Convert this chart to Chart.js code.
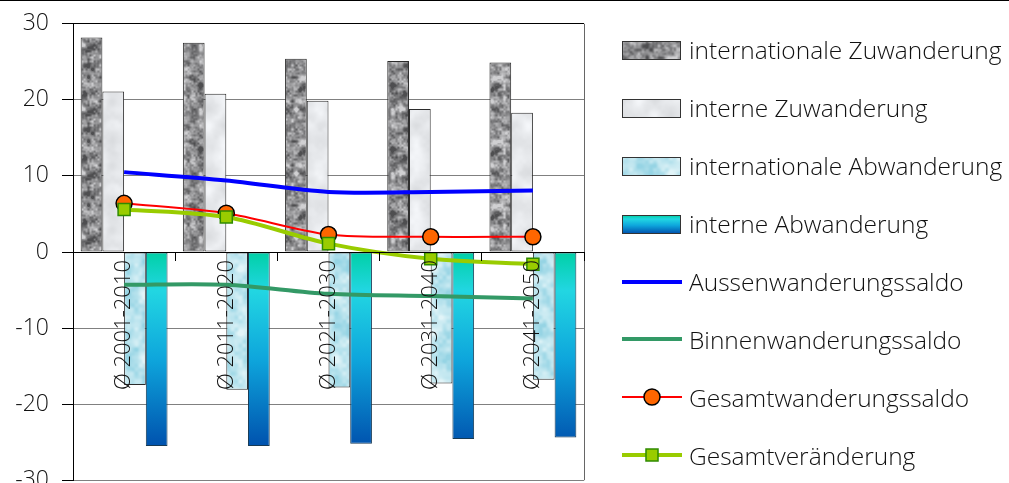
<!DOCTYPE html>
<html>
<head>
<meta charset="utf-8">
<script src="https://cdn.jsdelivr.net/npm/chart.js@4/dist/chart.umd.min.js"></script>
<style>
  html, body { margin: 0; padding: 0; background: #fff; overflow: hidden; width: 1009px; height: 483px; }
  #wrap { position: relative; width: 1009px; height: 483px; overflow: hidden; }
  #chart { position: absolute; left: 0; top: -3px; }
  #topRule { position: absolute; left: 0; top: 0; width: 1009px; height: 1px; background: #000; }
  #legend { position: absolute; left: 622px; top: 21px; font-family: 'Open Sans', sans-serif; font-weight: 300; font-size: 24.5px; color: #111; }
  .row { display: flex; align-items: center; height: 57.9px; white-space: nowrap; }
  .row canvas { margin-right: 7px; flex: none; }
</style>
</head>
<body>
<div id="wrap">
  <canvas id="chart" width="1009" height="510" style="width:1009px;height:510px"></canvas>
  <div id="topRule"></div>
  <div id="legend"></div>
</div>
<script>
// Decade averages (per 1000 inhabitants)
const categories = ['Ø 2001-2010', 'Ø 2011-2020', 'Ø 2021-2030', 'Ø 2031-2040', 'Ø 2041-2050'];
const intlZuwanderung    = [28.2, 27.5, 25.4, 25.1, 24.9];
const interneZuwanderung = [21.1, 20.8, 19.9, 18.8, 18.3];
const intlAbwanderung    = [-17.5, -18.1, -17.8, -17.3, -16.8];
const interneAbwanderung = [-25.5, -25.5, -25.2, -24.6, -24.4];
const aussenSaldo        = [10.5, 9.4, 7.9, 7.9, 8.1];
const binnenSaldo        = [-4.3, -4.3, -5.5, -5.8, -6.1];
const gesamtSaldo        = [6.4, 5.1, 2.3, 2.0, 2.0];
const gesamtVeraenderung = [5.6, 4.6, 1.1, -0.9, -1.6];
const yTicks = [-30, -20, -10, 0, 10, 20, 30];

const FONT = "'Open Sans', sans-serif";

// ---- tileable value-noise textures for the bar fills ----
function hash2(x, y, seed) {
  let h = Math.imul(x, 374761393) ^ Math.imul(y, 668265263) ^ Math.imul(seed, 1442695041);
  h = Math.imul(h ^ (h >>> 13), 1274126177);
  h ^= h >>> 16;
  return (h >>> 0) / 4294967296;
}
function tileNoise(x, y, cell, size, seed) {
  const n = size / cell;
  const gx = x / cell, gy = y / cell;
  const x0 = Math.floor(gx), y0 = Math.floor(gy);
  let fx = gx - x0, fy = gy - y0;
  fx = fx * fx * (3 - 2 * fx); fy = fy * fy * (3 - 2 * fy);
  const a = hash2(x0 % n, y0 % n, seed), b = hash2((x0 + 1) % n, y0 % n, seed);
  const c = hash2(x0 % n, (y0 + 1) % n, seed), d = hash2((x0 + 1) % n, (y0 + 1) % n, seed);
  const top = a + (b - a) * fx, bot = c + (d - c) * fx;
  return top + (bot - top) * fy;
}
function makeTexture(size, paint) {
  const c = document.createElement('canvas');
  c.width = c.height = size;
  const g = c.getContext('2d');
  const img = g.createImageData(size, size);
  for (let y = 0; y < size; y++) {
    for (let x = 0; x < size; x++) {
      const [r, gg, b] = paint(x, y);
      const i = (y * size + x) * 4;
      img.data[i] = r; img.data[i + 1] = gg; img.data[i + 2] = b; img.data[i + 3] = 255;
    }
  }
  g.putImageData(img, 0, 0);
  return c;
}
const clamp = (v, a, b) => Math.max(a, Math.min(b, v));
const S = 64;

const graniteTex = makeTexture(S, (x, y) => {
  const n = 0.4 * tileNoise(x, y, 8, S, 11) + 0.35 * tileNoise(x, y, 4, S, 12) + 0.25 * tileNoise(x, y, 2, S, 13);
  const t = clamp((n - 0.25) / 0.5, 0, 1);
  const v = 78 + t * 130;
  return [v, v, v + 2];
});
const marbleTex = makeTexture(S, (x, y) => {
  const n = 0.55 * tileNoise(x, y, 16, S, 21) + 0.3 * tileNoise(x, y, 8, S, 22) + 0.15 * tileNoise(x, y, 4, S, 23);
  const v = 214 + n * 36;
  return [v - 2, v, v + 3];
});
const waterTex = makeTexture(S, (x, y) => {
  const n = 0.45 * tileNoise(x, y, 8, S, 31) + 0.3 * tileNoise(x, y, 4, S, 32) + 0.25 * tileNoise(x, y, 16, S, 33);
  const t = clamp((n - 0.2) / 0.6, 0, 1);
  return [150 + t * 75, 212 + t * 32, 228 + t * 20];
});
const helperCtx = document.createElement('canvas').getContext('2d');
const granitePattern = helperCtx.createPattern(graniteTex, 'repeat');
const marblePattern = helperCtx.createPattern(marbleTex, 'repeat');
const waterPattern = helperCtx.createPattern(waterTex, 'repeat');

// vertical teal-to-blue ramp for the "interne Abwanderung" bars
function blueRamp(g, y0, y1) {
  const grad = g.createLinearGradient(0, y0, 0, y1);
  grad.addColorStop(0, '#00d0a6');
  grad.addColorStop(0.2, '#22d6e2');
  grad.addColorStop(0.55, '#0ea6dc');
  grad.addColorStop(1, '#0052ae');
  return grad;
}

const barBase = { type: 'bar', borderWidth: 1, borderSkipped: false, order: 10 };

const datasets = [
  Object.assign({}, barBase, {
    label: 'internationale Zuwanderung', data: intlZuwanderung,
    backgroundColor: granitePattern, borderColor: '#2b2b2b',
    swatch: (g, w, h) => granitePattern
  }),
  Object.assign({}, barBase, {
    label: 'interne Zuwanderung', data: interneZuwanderung,
    backgroundColor: marblePattern, borderColor: '#2b2b2b',
    swatch: (g, w, h) => marblePattern
  }),
  Object.assign({}, barBase, {
    label: 'internationale Abwanderung', data: intlAbwanderung,
    backgroundColor: waterPattern, borderColor: '#2b2b2b',
    swatch: (g, w, h) => waterPattern
  }),
  Object.assign({}, barBase, {
    label: 'interne Abwanderung', data: interneAbwanderung,
    backgroundColor: (ctx) => {
      const chart = ctx.chart;
      if (!chart.chartArea) return '#10b0d8';
      const ys = chart.scales.y;
      return blueRamp(chart.ctx, ys.getPixelForValue(0), ys.getPixelForValue(Math.min(...interneAbwanderung)));
    },
    borderColor: '#173a55',
    swatch: (g, w, h) => blueRamp(g, 0, h)
  }),
  {
    type: 'line', label: 'Aussenwanderungssaldo', data: aussenSaldo,
    borderColor: '#0000ff', borderWidth: 4, pointRadius: 0, tension: 0.3, fill: false, order: 4
  },
  {
    type: 'line', label: 'Binnenwanderungssaldo', data: binnenSaldo,
    borderColor: '#339966', borderWidth: 4, pointRadius: 0, tension: 0.3, fill: false, order: 3
  },
  {
    type: 'line', label: 'Gesamtwanderungssaldo', data: gesamtSaldo,
    borderColor: '#ff0000', borderWidth: 2, tension: 0.3, fill: false, order: 2,
    pointStyle: 'circle', pointRadius: 8, pointBackgroundColor: '#ff6600',
    pointBorderColor: '#000000', pointBorderWidth: 1.5
  },
  {
    type: 'line', label: 'Gesamtveränderung', data: gesamtVeraenderung,
    borderColor: '#99cc00', borderWidth: 4, tension: 0.3, fill: false, order: 1,
    pointStyle: 'rect', pointRadius: 8.5, pointBackgroundColor: '#99cc00',
    pointBorderColor: '#2f8a00', pointBorderWidth: 1.5
  }
];

// right edge of the plot frame
const plotFrame = {
  id: 'plotFrame',
  beforeDatasetsDraw(chart) {
    const { ctx, chartArea: a } = chart;
    ctx.save();
    ctx.strokeStyle = '#666';
    ctx.lineWidth = 1;
    ctx.beginPath();
    ctx.moveTo(Math.round(a.right) + 0.5, a.top);
    ctx.lineTo(Math.round(a.right) + 0.5, a.bottom);
    ctx.stroke();
    ctx.restore();
  }
};

const chart = new Chart(document.getElementById('chart'), {
  data: { labels: categories, datasets },
  options: {
    responsive: false,
    devicePixelRatio: 1,
    animation: false,
    events: [],
    layout: { padding: { top: 0, right: 425, bottom: 0, left: 0 } },
    datasets: { bar: { categoryPercentage: 0.85, barPercentage: 1.0 } },
    plugins: { legend: { display: false }, tooltip: { enabled: false } },
    scales: {
      x: {
        type: 'category',
        position: { y: 0 },
        offset: true,
        grid: { drawOnChartArea: false, drawTicks: true, tickLength: 8, tickColor: '#000', offset: true, z: 1 },
        border: { color: '#000', width: 1, z: 1 },
        ticks: {
          z: 1,
          minRotation: 90, maxRotation: 90, autoSkip: false, padding: 0,
          color: '#111', font: { family: FONT, size: 22, weight: '300' }
        }
      },
      y: {
        min: yTicks[0], max: yTicks[yTicks.length - 1],
        afterBuildTicks: (s) => { s.ticks = yTicks.map(v => ({ value: v })); },
        afterFit: (s) => { s.width = 73; },
        grid: {
          color: (c) => (c.tick && (c.tick.value === 30 || c.tick.value === 0)) ? '#000' : '#808080',
          lineWidth: 1, drawTicks: true, tickLength: 11, tickColor: '#000'
        },
        border: { color: '#000', width: 1 },
        ticks: { padding: 13, color: '#111', font: { family: FONT, size: 23, weight: '300' } }
      }
    }
  },
  plugins: [plotFrame]
});

// HTML legend built from the chart's datasets
function buildLegend(chart) {
  const box = document.getElementById('legend');
  box.innerHTML = '';
  chart.data.datasets.forEach((ds) => {
    const row = document.createElement('div');
    row.className = 'row';
    const c = document.createElement('canvas');
    const W = 60, H = 22;
    c.width = W; c.height = H;
    const g = c.getContext('2d');
    if (ds.type === 'bar') {
      const bw = 58, bh = 18, bx = 0.5, by = 2.5;
      g.save();
      g.translate(bx, by);
      g.fillStyle = ds.swatch(g, bw, bh);
      g.fillRect(0, 0, bw, bh);
      g.strokeStyle = '#333';
      g.lineWidth = 1;
      g.strokeRect(0, 0, bw, bh);
      g.restore();
    } else {
      g.strokeStyle = ds.borderColor;
      g.lineWidth = ds.borderWidth;
      g.beginPath();
      g.moveTo(0, H / 2);
      g.lineTo(W, H / 2);
      g.stroke();
      if (ds.pointRadius) {
        g.fillStyle = ds.pointBackgroundColor;
        g.strokeStyle = ds.pointBorderColor;
        g.lineWidth = ds.pointBorderWidth;
        g.beginPath();
        if (ds.pointStyle === 'rect') {
          const s = ds.pointRadius * Math.SQRT1_2;
          g.rect(W / 2 - s, H / 2 - s, 2 * s, 2 * s);
        } else {
          g.arc(W / 2, H / 2, ds.pointRadius, 0, Math.PI * 2);
        }
        g.fill();
        g.stroke();
      }
    }
    const span = document.createElement('span');
    span.textContent = ds.label;
    row.appendChild(c);
    row.appendChild(span);
    box.appendChild(row);
  });
}
buildLegend(chart);
</script>
</body>
</html>
